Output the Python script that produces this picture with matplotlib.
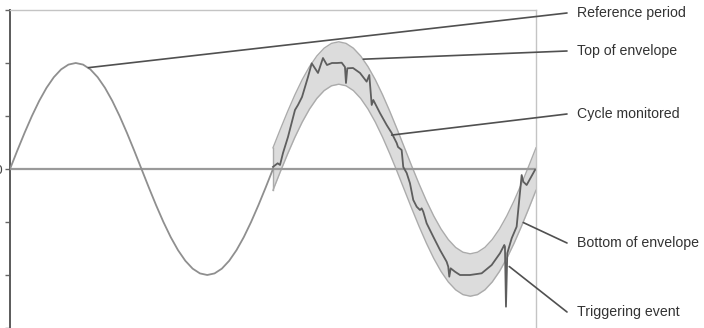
''' envelope monitoring sketch '''
import matplotlib
matplotlib.use('Agg')
import matplotlib.pyplot as plt

# reference period, sampled every 10 degrees
ref_deg = [0, 10, 20, 30, 40, 50, 60, 70, 80, 90, 100, 110, 120, 130, 140, 150, 160, 170, 180,
           190, 200, 210, 220, 230, 240, 250, 260, 270, 280, 290, 300, 310, 320, 330, 340, 350, 360]
ref_val = [0.0, 0.174, 0.342, 0.5, 0.643, 0.766, 0.866, 0.94, 0.985, 1.0, 0.985, 0.94, 0.866,
           0.766, 0.643, 0.5, 0.342, 0.174, 0.0, -0.174, -0.342, -0.5, -0.643, -0.766, -0.866,
           -0.94, -0.985, -1.0, -0.985, -0.94, -0.866, -0.766, -0.643, -0.5, -0.342, -0.174, 0.0]
band = 0.2  # tolerance of the envelope

# monitored cycle (second period)
mon_deg = [360, 366.4, 369.6, 373.7, 380.5, 390.1, 394.2, 399.7, 407.9, 413.0, 421.6, 428.4,
           433.9, 440.7, 447.6, 454.0, 458.5, 459.9, 461.7, 469.5, 479.1, 488.2, 491.8, 495.1,
           497.3, 506.4, 515.6, 522.4, 529.3, 531.1, 536.1, 538.3, 543.0, 547.5, 552.0, 556.7,
           561.2, 563.5, 565.7, 570.3, 579.4, 588.6, 597.7, 599.9, 601.3, 603.2, 609.1, 616.0,
           629.6, 645.6, 659.3, 670.7, 676.6, 677.5, 678.9, 680.7, 686.7, 693.5, 695.7, 700.4,
           702.6, 707.2, 718.6]
mon_val = [0.02, 0.054, 0.038, 0.151, 0.302, 0.557, 0.604, 0.679, 0.868, 0.997, 0.906, 1.047,
           0.981, 1.0, 1.0, 1.003, 0.962, 0.811, 0.95, 0.953, 0.906, 0.824, 0.887, 0.604,
           0.651, 0.528, 0.415, 0.34, 0.245, 0.208, 0.179, 0.019, -0.038, -0.135, -0.292, -0.356,
           -0.387, -0.371, -0.403, -0.512, -0.639, -0.764, -0.875, -0.922, -1.016, -0.937, -0.969, -1.0,
           -1.0, -0.984, -0.906, -0.795, -0.717, -0.733, -1.299, -0.795, -0.654, -0.544, -0.387, -0.057,
           -0.12, -0.151, -0.009]

# callouts: label, point on curve (deg, value), text height in pixels from top
labels = ['Reference period', 'Top of envelope', 'Cycle monitored', 'Bottom of envelope', 'Triggering event']
label_deg = [107.2, 483.6, 522.4, 702.6, 683.4]
label_val = [0.956, 1.036, 0.32, -0.505, -0.92]
label_py = [13, 51, 114, 243, 312]

W, H = 704, 328
fig = plt.figure(figsize=(W / 100, H / 100), dpi=100)
ax = fig.add_axes([10 / W, 0, 526 / W, 318 / H])

env_deg = [d + 360 for d in ref_deg]
env_top = [v + band for v in ref_val]
env_bot = [v - band for v in ref_val]
ax.fill_between(env_deg, env_bot, env_top, color='#dcdcdc', lw=0, zorder=1)
ax.plot(env_deg, env_top, color='#ababab', lw=1, zorder=2)
ax.plot(env_deg, env_bot, color='#ababab', lw=1, zorder=2)
ax.plot([360, 360], [env_bot[0], env_top[0]], color='#ababab', lw=1, zorder=2)

ax.axhline(0, color='#9a9a9a', lw=1.6, zorder=3)
ax.plot(ref_deg, ref_val, color='#8f8f8f', lw=1.3, zorder=4)
ax.plot(mon_deg, mon_val, color='#5e5e5e', lw=1.3, zorder=5)

ax.set_xlim(0, 720)
ax.set_ylim(-1.5, 1.5)
ax.set_xticks([])
ax.set_yticks([-1.5, -1, -0.5, 0, 0.5, 1, 1.5])
ax.set_yticklabels(['', '', '', '0', '', '', ''])
ax.tick_params(axis='y', length=3.5, width=1, color='#666666', pad=2.5,
               labelsize=9, labelcolor='#444444')
for s in ['top', 'right']:
    ax.spines[s].set_color('#c4c4c4')
    ax.spines[s].set_linewidth(1)
ax.spines['bottom'].set_visible(False)
ax.spines['left'].set_color('#5a5a5a')
ax.spines['left'].set_linewidth(1.4)

for lab, d, v, py in zip(labels, label_deg, label_val, label_py):
    ax.annotate('', xy=(d, v), xycoords='data', xytext=(567, H - py), textcoords='figure pixels',
                arrowprops=dict(arrowstyle='-', color='#505050', lw=1.2, shrinkA=0, shrinkB=0),
                annotation_clip=False, zorder=6)
    fig.text(577 / W, 1 - py / H, lab, ha='left', va='center', fontsize=10.2,
             color='#333333', family='Liberation Sans')

fig.savefig('out.png', dpi=100)
